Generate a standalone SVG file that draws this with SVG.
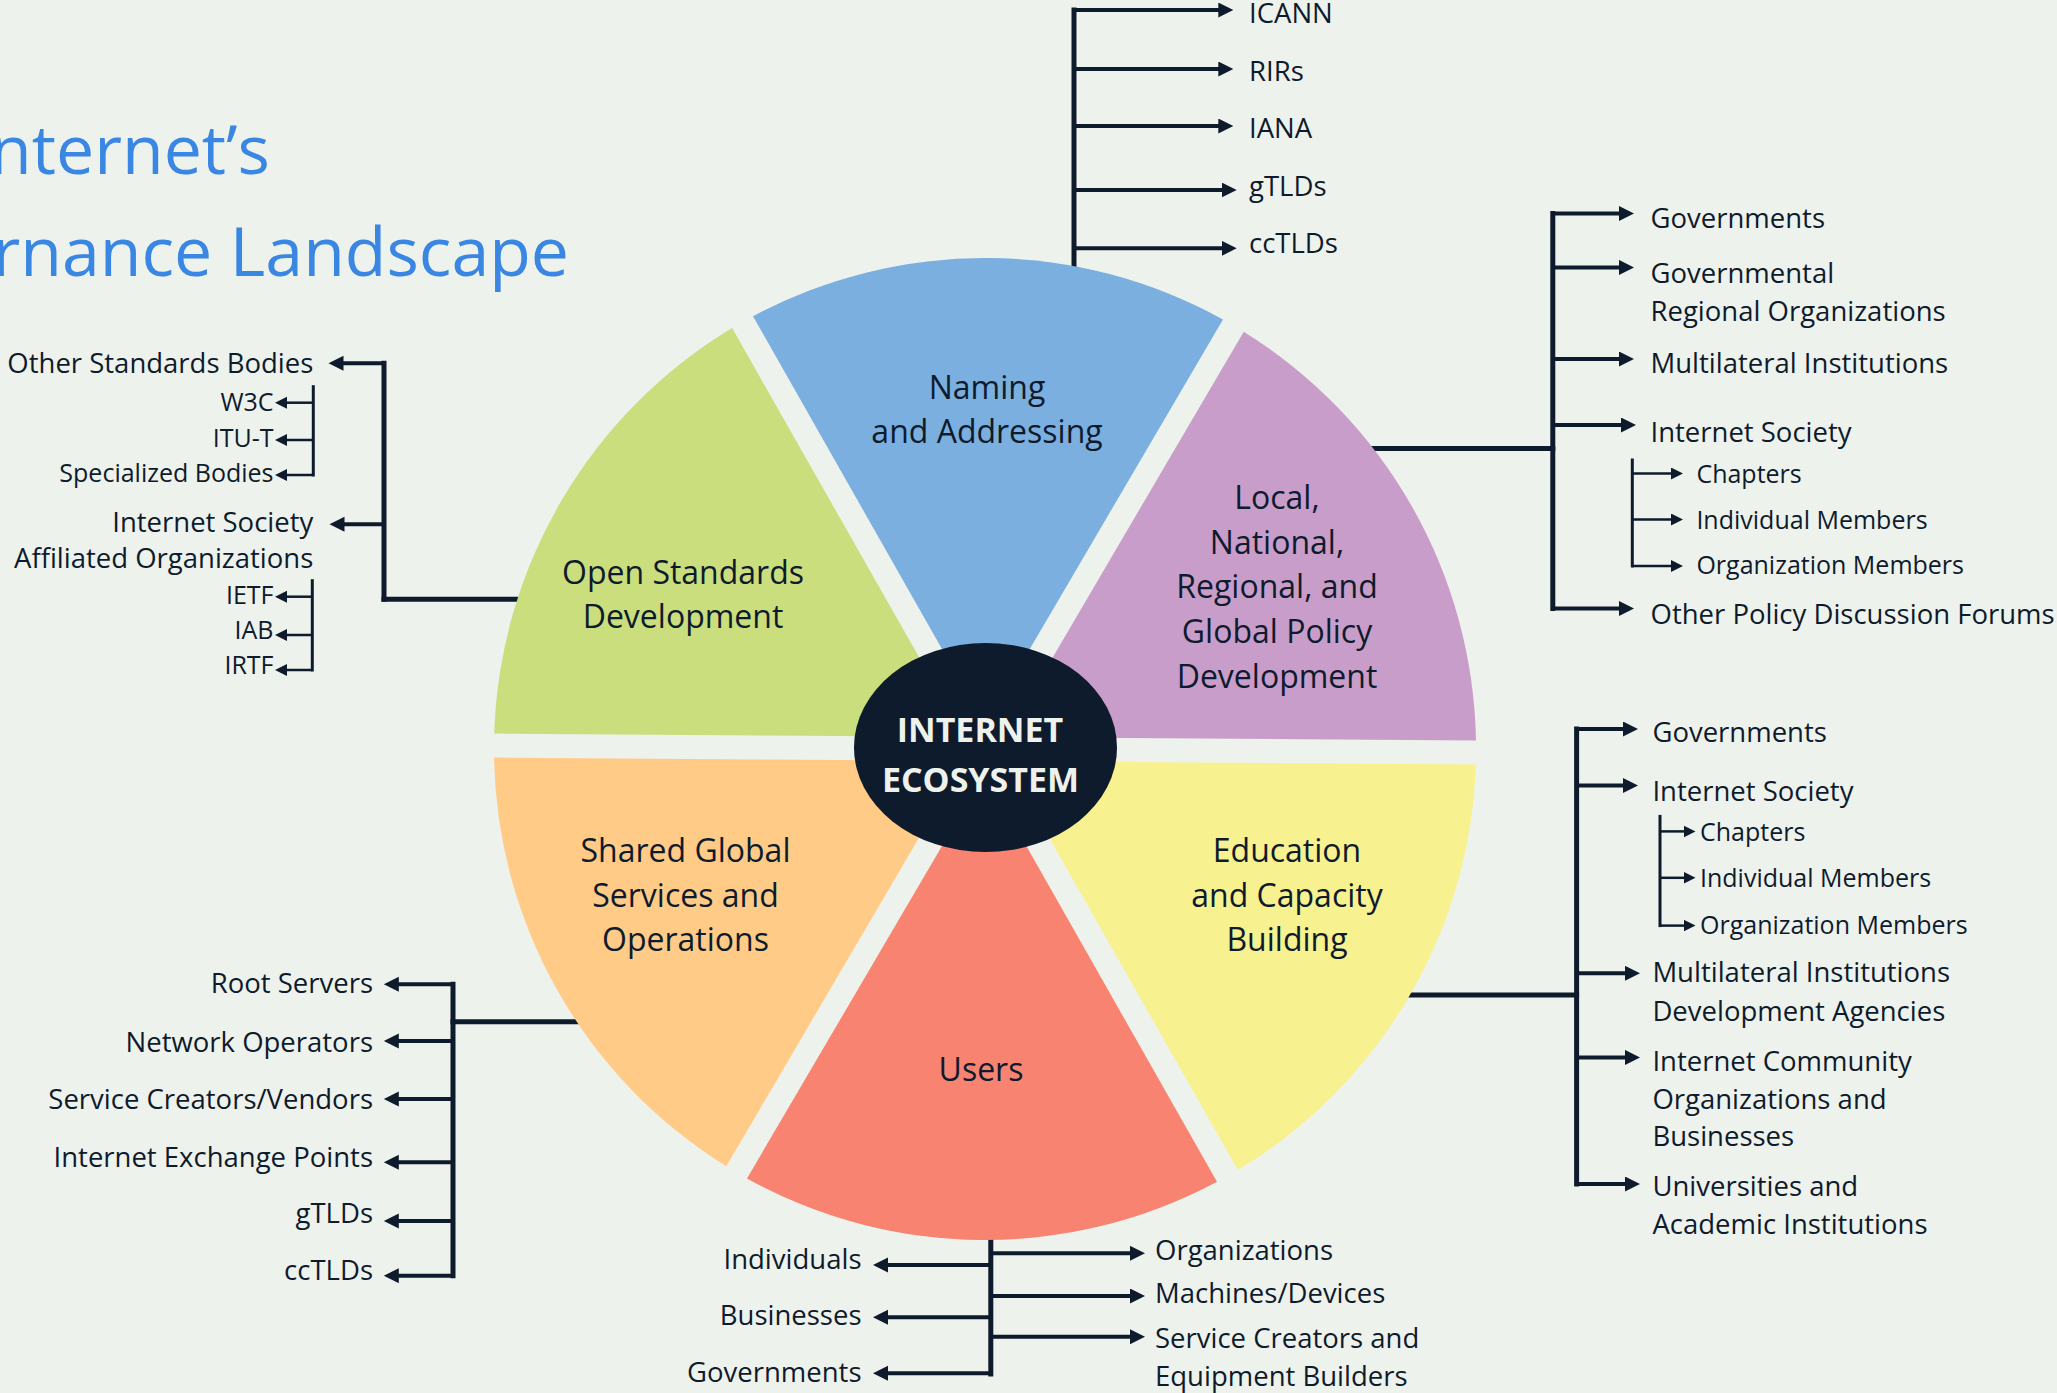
<svg xmlns="http://www.w3.org/2000/svg" width="2057" height="1393" viewBox="0 0 2057 1393">
<style>
text{font-family:"Open Sans","Liberation Sans",sans-serif;fill:#0E1B2C}
.m{font-size:27.5px}
.s{font-size:25px}
.w{font-size:32px;text-anchor:middle}
.e{text-anchor:end}
.ttl{font-size:68px;fill:#3A86E3}
.hub{font-size:34px;font-weight:bold;fill:#EEF2EC;text-anchor:middle}
.ln{stroke:#0E1B2C;fill:none;stroke-width:4}
.tk{stroke:#0E1B2C;fill:none;stroke-width:5;stroke-linecap:square}
.st{stroke:#0E1B2C;fill:none;stroke-width:3;stroke-linecap:square}
.sl{stroke:#0E1B2C;fill:none;stroke-width:2.5}
.big{marker-end:url(#ah)}
.sm{marker-end:url(#as)}
</style>
<defs>
<marker id="ah" markerUnits="userSpaceOnUse" markerWidth="16" markerHeight="16" refX="1" refY="7.5" orient="auto"><path d="M0,0 L15,7.5 L0,15 Z" fill="#0E1B2C"/></marker>
<marker id="as" markerUnits="userSpaceOnUse" markerWidth="13" markerHeight="13" refX="1" refY="6" orient="auto"><path d="M0,0 L12,6 L0,12 Z" fill="#0E1B2C"/></marker>
</defs>
<rect width="2057" height="1393" fill="#EEF2EC"/>

<g id="title">
<text class="ttl e" x="270" y="174">nternet’s</text>
<text class="ttl e" x="569" y="276">rnance Landscape</text>
</g>

<g id="connectors">
<!-- naming -->
<path class="tk" d="M1074,275 V10"/>
<path class="ln big" d="M1074,10 H1219.3"/>
<path class="ln big" d="M1074,69 H1219.3"/>
<path class="ln big" d="M1074,126 H1219.3"/>
<path class="ln big" d="M1074,190 H1222.7"/>
<path class="ln big" d="M1074,248.3 H1222.7"/>
<!-- policy -->
<path class="tk" d="M1365,448.6 H1552.8"/>
<path class="tk" d="M1552.8,213.5 V608.6"/>
<path class="ln big" d="M1552.8,213.5 H1620"/>
<path class="ln big" d="M1552.8,267.4 H1620"/>
<path class="ln big" d="M1552.8,359 H1620"/>
<path class="ln big" d="M1552.8,425 H1622"/>
<path class="ln big" d="M1552.8,608.6 H1620"/>
<path class="st" d="M1632.3,460 V566"/>
<path class="sl sm" d="M1632.3,473.5 H1672"/>
<path class="sl sm" d="M1632.3,519.5 H1672"/>
<path class="sl sm" d="M1632.3,566 H1672"/>
<!-- education -->
<path class="tk" d="M1400,995 H1576.6"/>
<path class="tk" d="M1576.6,729 V1184"/>
<path class="ln big" d="M1576.6,729 H1624"/>
<path class="ln big" d="M1576.6,785.5 H1624"/>
<path class="ln big" d="M1576.6,973.3 H1626"/>
<path class="ln big" d="M1576.6,1057.4 H1626"/>
<path class="ln big" d="M1576.6,1184 H1626"/>
<path class="st" d="M1660,816.4 V925.6"/>
<path class="sl sm" d="M1660,831.4 H1684.5"/>
<path class="sl sm" d="M1660,877.8 H1684.5"/>
<path class="sl sm" d="M1660,925.6 H1684.5"/>
<!-- shared -->
<path class="tk" d="M585,1021.7 H453"/>
<path class="tk" d="M453,984.3 V1275.7"/>
<path class="ln big" d="M453,984.3 H397.8"/>
<path class="ln big" d="M453,1041 H397.8"/>
<path class="ln big" d="M453,1099 H397.8"/>
<path class="ln big" d="M453,1162.3 H397.8"/>
<path class="ln big" d="M453,1221 H397.8"/>
<path class="ln big" d="M453,1275.7 H397.8"/>
<!-- standards -->
<path class="tk" d="M525,599.3 H384"/>
<path class="tk" d="M384,363.3 V599.3"/>
<path class="ln big" d="M384,363.3 H342.5"/>
<path class="ln big" d="M384,524.3 H343.5"/>
<path class="st" d="M313.3,386.7 V475"/>
<path class="sl sm" d="M313.3,402.7 H286"/>
<path class="sl sm" d="M313.3,440 H286"/>
<path class="sl sm" d="M313.3,475 H286"/>
<path class="st" d="M312.3,580.7 V670"/>
<path class="sl sm" d="M312.3,596.7 H286"/>
<path class="sl sm" d="M312.3,635 H286"/>
<path class="sl sm" d="M312.3,670 H286"/>
<!-- users -->
<path class="tk" d="M990.8,1230 V1374"/>
<path class="ln big" d="M990.8,1265 H887"/>
<path class="ln big" d="M990.8,1317.3 H887"/>
<path class="ln big" d="M990.8,1373.3 H887"/>
<path class="ln big" d="M990.8,1253.3 H1131"/>
<path class="ln big" d="M990.8,1296 H1131"/>
<path class="ln big" d="M990.8,1336.7 H1131"/>
</g>

<g id="wheel" transform="rotate(0.4 985 749)">
<path id="w-naming" d="M985,725 L750.0,317.9 A491,491 0 0 1 1220.0,317.9 Z" fill="#7BAFE0"/>
<path id="w-policy" d="M1005.8,737 L1240.8,329.9 A491,491 0 0 1 1475.9,737.0 Z" fill="#C99DC9"/>
<path id="w-education" d="M1005.8,761 L1475.9,761.0 A491,491 0 0 1 1240.8,1168.1 Z" fill="#F8F190"/>
<path id="w-users" d="M985,773 L1220.0,1180.1 A491,491 0 0 1 750.0,1180.1 Z" fill="#F88371"/>
<path id="w-shared" d="M964.2,761 L729.2,1168.1 A491,491 0 0 1 494.1,761.0 Z" fill="#FFCB87"/>
<path id="w-standards" d="M964.2,737 L494.1,737.0 A491,491 0 0 1 729.2,329.9 Z" fill="#CADE7D"/>
</g>

<g id="naming">
<text class="w" x="987" y="399.4">Naming</text>
<text class="w" x="987" y="442.8">and Addressing</text>
</g>
<g id="policy">
<text class="w" x="1277" y="509">Local,</text>
<text class="w" x="1277" y="553.8">National,</text>
<text class="w" x="1277" y="598.4">Regional, and</text>
<text class="w" x="1277" y="643">Global Policy</text>
<text class="w" x="1277" y="687.7">Development</text>
</g>
<g id="education">
<text class="w" x="1287" y="861.8">Education</text>
<text class="w" x="1287" y="906.5">and Capacity</text>
<text class="w" x="1287" y="951">Building</text>
</g>
<g id="users">
<text class="w" x="981" y="1080.6">Users</text>
</g>
<g id="shared">
<text class="w" x="685.5" y="861.8">Shared Global</text>
<text class="w" x="685.5" y="906.5">Services and</text>
<text class="w" x="685.5" y="951">Operations</text>
</g>
<g id="standards">
<text class="w" x="683" y="584.4">Open Standards</text>
<text class="w" x="683" y="627.8">Development</text>
</g>
<g id="hub">
<ellipse cx="985.5" cy="747.5" rx="131.5" ry="104.5" fill="#0E1B2C"/>
<text class="hub" x="980" y="741.7">INTERNET</text>
<text class="hub" x="980.5" y="792">ECOSYSTEM</text>
</g>

<g id="naming-items">
<text class="m" x="1249" y="23.3">ICANN</text>
<text class="m" x="1249" y="81">RIRs</text>
<text class="m" x="1249" y="137.7">IANA</text>
<text class="m" x="1249" y="196">gTLDs</text>
<text class="m" x="1249" y="253">ccTLDs</text>
</g>
<g id="policy-items">
<text class="m" x="1650.5" y="228">Governments</text>
<text class="m" x="1650.5" y="283">Governmental</text>
<text class="m" x="1650.5" y="321.3">Regional Organizations</text>
<text class="m" x="1650.5" y="373">Multilateral Institutions</text>
<text class="m" x="1650.5" y="441.5">Internet Society</text>
<text class="s" x="1696.4" y="483">Chapters</text>
<text class="s" x="1696.4" y="528.6">Individual Members</text>
<text class="s" x="1696.4" y="574">Organization Members</text>
<text class="m" x="1650.5" y="624">Other Policy Discussion Forums</text>
</g>
<g id="education-items">
<text class="m" x="1652.4" y="742.3">Governments</text>
<text class="m" x="1652.4" y="800.5">Internet Society</text>
<text class="s" x="1700" y="841.4">Chapters</text>
<text class="s" x="1700" y="887">Individual Members</text>
<text class="s" x="1700" y="933.8">Organization Members</text>
<text class="m" x="1652.4" y="982.4">Multilateral Institutions</text>
<text class="m" x="1652.4" y="1021">Development Agencies</text>
<text class="m" x="1652.4" y="1071">Internet Community</text>
<text class="m" x="1652.4" y="1108.5">Organizations and</text>
<text class="m" x="1652.4" y="1146">Businesses</text>
<text class="m" x="1652.4" y="1196">Universities and</text>
<text class="m" x="1652.4" y="1234">Academic Institutions</text>
</g>
<g id="shared-items">
<text class="m e" x="373" y="993.3">Root Servers</text>
<text class="m e" x="373" y="1051.7">Network Operators</text>
<text class="m e" x="373" y="1109.3">Service Creators/Vendors</text>
<text class="m e" x="373" y="1166.7">Internet Exchange Points</text>
<text class="m e" x="373" y="1223.3">gTLDs</text>
<text class="m e" x="373" y="1280">ccTLDs</text>
</g>
<g id="standards-items">
<text class="m e" x="313.3" y="372.7">Other Standards Bodies</text>
<text class="s e" x="273.5" y="410.7">W3C</text>
<text class="s e" x="273.5" y="446.7">ITU-T</text>
<text class="s e" x="273.5" y="481.7">Specialized Bodies</text>
<text class="m e" x="313.3" y="531.7">Internet Society</text>
<text class="m e" x="313.3" y="568.3">Affiliated Organizations</text>
<text class="s e" x="273.5" y="604.3">IETF</text>
<text class="s e" x="273.5" y="639.3">IAB</text>
<text class="s e" x="273.5" y="674.3">IRTF</text>
</g>
<g id="users-items">
<text class="m e" x="861.5" y="1269">Individuals</text>
<text class="m e" x="861.5" y="1325">Businesses</text>
<text class="m e" x="861.5" y="1382.3">Governments</text>
<text class="m" x="1155" y="1260">Organizations</text>
<text class="m" x="1155" y="1303.3">Machines/Devices</text>
<text class="m" x="1155" y="1348.3">Service Creators and</text>
<text class="m" x="1155" y="1385.7">Equipment Builders</text>
</g>
</svg>
